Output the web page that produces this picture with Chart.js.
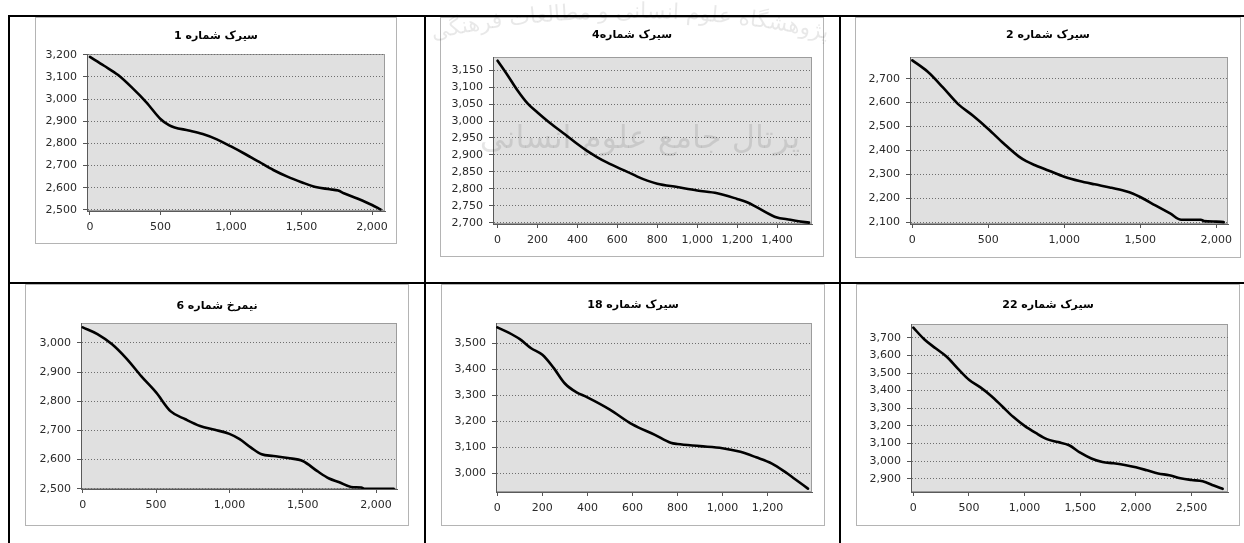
<!DOCTYPE html>
<html>
<head>
<meta charset="utf-8">
<script src="https://cdn.jsdelivr.net/npm/chart.js@4.4.1/dist/chart.umd.min.js"></script>
<style>
  html, body { margin: 0; padding: 0; background: #fff; width: 1244px; height: 543px; overflow: hidden; position: relative; }
  .rule { position: absolute; background: #000; }
  .frame { position: absolute; box-sizing: border-box; border: 1px solid #b4b4b4; background: #fff; }
  canvas { position: absolute; }
  .mark { position: absolute; left: 0; top: 0; pointer-events: none; z-index: 5; }
</style>
</head>
<body>
<!-- table rules -->
<div class="rule" style="left:8px;top:15px;width:1236px;height:2px"></div>
<div class="rule" style="left:8px;top:282px;width:1236px;height:2px"></div>
<div class="rule" style="left:8px;top:15px;width:2px;height:528px"></div>
<div class="rule" style="left:424px;top:15px;width:2px;height:528px"></div>
<div class="rule" style="left:839px;top:15px;width:2px;height:528px"></div>

<!-- faint portal stamp -->
<svg class="mark" width="1244" height="300" viewBox="0 0 1244 300">
  <defs>
    <path id="arc" d="M 330 68 A 925 925 0 0 1 930 68" />
  </defs>
  <text font-family="DejaVu Sans" font-size="22" fill="#000" fill-opacity="0.09" direction="rtl">
    <textPath href="#arc" startOffset="50%" text-anchor="middle">پژوهشگاه علوم انسانی و مطالعات فرهنگی</textPath>
  </text>
  <text x="640" y="148" font-family="DejaVu Sans" font-size="32" fill="#000" fill-opacity="0.1" text-anchor="middle" direction="rtl">پرتال جامع علوم انسانی</text>
</svg>

<script>
// Profile titles
const titles = ['سیرک شماره 1', 'سیرک شماره4', 'سیرک شماره 2', 'نیمرخ شماره 6', 'سیرک شماره 18', 'سیرک شماره 22'];

// Profile 1
const dist1 = [0, 100, 200, 300, 400, 500, 560, 600, 700, 800, 900, 1000, 1100, 1200, 1300, 1400, 1500, 1600, 1700, 1760, 1800, 1900, 2000, 2060];
const elev1 = [3190, 3150, 3108, 3050, 2985, 2910, 2882, 2872, 2858, 2842, 2818, 2786, 2752, 2716, 2680, 2650, 2625, 2603, 2593, 2587, 2575, 2550, 2522, 2502];
const xTicks1 = [0, 500, 1000, 1500, 2000];
const yTicks1 = [2500, 2600, 2700, 2800, 2900, 3000, 3100, 3200];

// Profile 4
const dist2 = [0, 50, 100, 150, 200, 250, 300, 350, 400, 450, 500, 550, 600, 650, 700, 750, 800, 900, 1000, 1100, 1200, 1250, 1300, 1400, 1450, 1500, 1560];
const elev2 = [3178, 3135, 3090, 3052, 3025, 3000, 2977, 2955, 2932, 2911, 2893, 2877, 2863, 2850, 2836, 2824, 2815, 2805, 2795, 2787, 2770, 2760, 2745, 2715, 2710, 2705, 2700];
const xTicks2 = [0, 200, 400, 600, 800, 1000, 1200, 1400];
const yTicks2 = [2700, 2750, 2800, 2850, 2900, 2950, 3000, 3050, 3100, 3150];

// Profile 2
const dist3 = [0, 100, 200, 300, 400, 500, 600, 700, 750, 800, 900, 1000, 1100, 1200, 1300, 1400, 1450, 1500, 1600, 1700, 1770, 1900, 1920, 2000, 2050];
const elev3 = [2777, 2730, 2665, 2595, 2545, 2490, 2430, 2375, 2355, 2340, 2315, 2290, 2272, 2258, 2245, 2230, 2220, 2205, 2170, 2135, 2110, 2110, 2104, 2102, 2100];
const xTicks3 = [0, 500, 1000, 1500, 2000];
const yTicks3 = [2100, 2200, 2300, 2400, 2500, 2600, 2700];

// Profile 6
const dist4 = [0, 100, 200, 300, 400, 500, 600, 700, 800, 900, 1000, 1070, 1150, 1220, 1300, 1400, 1500, 1600, 1680, 1750, 1830, 1900, 1920, 2120];
const elev4 = [3053, 3030, 2995, 2945, 2885, 2830, 2765, 2738, 2715, 2702, 2688, 2670, 2640, 2618, 2612, 2605, 2595, 2560, 2535, 2522, 2506, 2504, 2500, 2500];
const xTicks4 = [0, 500, 1000, 1500, 2000];
const yTicks4 = [2500, 2600, 2700, 2800, 2900, 3000];

// Profile 18
const dist5 = [0, 50, 100, 150, 200, 250, 300, 350, 400, 500, 600, 700, 770, 800, 900, 1000, 1080, 1150, 1220, 1280, 1320, 1380];
const elev5 = [3560, 3540, 3515, 3480, 3455, 3405, 3345, 3312, 3292, 3245, 3188, 3148, 3118, 3113, 3105, 3097, 3083, 3062, 3038, 3005, 2980, 2942];
const xTicks5 = [0, 200, 400, 600, 800, 1000, 1200];
const yTicks5 = [3000, 3100, 3200, 3300, 3400, 3500];

// Profile 22
const dist6 = [0, 100, 200, 300, 400, 500, 600, 700, 800, 900, 1000, 1100, 1200, 1300, 1400, 1500, 1600, 1700, 1800, 1900, 2000, 2100, 2200, 2300, 2400, 2500, 2600, 2700, 2780];
const elev6 = [3757, 3690, 3640, 3592, 3525, 3462, 3420, 3370, 3310, 3250, 3200, 3160, 3125, 3108, 3090, 3048, 3015, 2995, 2988, 2978, 2965, 2948, 2930, 2920, 2903, 2893, 2886, 2862, 2843];
const xTicks6 = [0, 500, 1000, 1500, 2000, 2500];
const yTicks6 = [2900, 3000, 3100, 3200, 3300, 3400, 3500, 3600, 3700];

// Panel geometry: frame box (left, top, right, bottom), plot box, title centre y, axis ranges
const panels = [
  { frame: [35, 17, 396, 243],  plot: [87, 54, 385, 211],   titleY: 36,  xr: [-21, 2092], yr: [2495, 3203], d: dist1, e: elev1, xt: xTicks1, yt: yTicks1 },
  { frame: [440, 17, 823, 256], plot: [493, 57, 812, 224],  titleY: 35,  xr: [-23, 1575], yr: [2696, 3189], d: dist2, e: elev2, xt: xTicks2, yt: yTicks2 },
  { frame: [855, 17, 1240, 257], plot: [910, 57, 1228, 224], titleY: 35, xr: [-15, 2078], yr: [2092, 2791], d: dist3, e: elev3, xt: xTicks3, yt: yTicks3 },
  { frame: [25, 284, 408, 525], plot: [81, 323, 397, 489],  titleY: 306, xr: [-12, 2143], yr: [2499, 3068], d: dist4, e: elev4, xt: xTicks4, yt: yTicks4 },
  { frame: [441, 284, 824, 525], plot: [496, 323, 812, 492], titleY: 305, xr: [-6, 1398], yr: [2929, 3577], d: dist5, e: elev5, xt: xTicks5, yt: yTicks5 },
  { frame: [856, 284, 1239, 525], plot: [911, 324, 1228, 492], titleY: 305, xr: [-21, 2828], yr: [2825, 3778], d: dist6, e: elev6, xt: xTicks6, yt: yTicks6 }
];

// Grey plot background with a light frame on top and right
const plotBackground = {
  id: 'plotBackground',
  beforeDraw(chart) {
    const { ctx, chartArea: a } = chart;
    ctx.save();
    ctx.fillStyle = '#e0e0e0';
    ctx.fillRect(a.left, a.top, a.right - a.left, a.bottom - a.top);
    ctx.strokeStyle = '#9c9c9c';
    ctx.lineWidth = 1;
    ctx.strokeRect(a.left + 0.5, a.top + 0.5, a.right - a.left - 1, a.bottom - a.top - 1);
    ctx.restore();
  }
};

// Right-to-left panel heading, centred across the canvas
const rtlTitle = {
  id: 'rtlTitle',
  afterDraw(chart, args, opts) {
    const { ctx, width } = chart;
    ctx.save();
    ctx.direction = 'rtl';
    ctx.textAlign = 'center';
    ctx.textBaseline = 'middle';
    ctx.fillStyle = '#000';
    ctx.font = 'bold 11px "DejaVu Sans"';
    ctx.fillText(opts.text, width / 2, opts.y);
    ctx.restore();
  }
};

const tickFont = { family: 'DejaVu Sans', size: 11 };

panels.forEach((p, i) => {
  const [fl, ft, fr, fb] = p.frame;
  const [pl, pt, pr, pb] = p.plot;
  const frame = document.createElement('div');
  frame.className = 'frame';
  frame.style.left = fl + 'px';
  frame.style.top = ft + 'px';
  frame.style.width = (fr - fl + 1) + 'px';
  frame.style.height = (fb - ft + 1) + 'px';
  document.body.appendChild(frame);

  const cl = fl + 1, ct = ft + 1, cw = fr - fl - 1, ch = fb - ft - 1;
  const cv = document.createElement('canvas');
  cv.width = cw; cv.height = ch;
  cv.style.left = cl + 'px'; cv.style.top = ct + 'px';
  cv.style.width = cw + 'px'; cv.style.height = ch + 'px';
  document.body.appendChild(cv);

  const yAxisW = pl - cl;
  const xAxisH = fb - pb;

  new Chart(cv, {
    type: 'line',
    data: {
      datasets: [{
        data: p.d.map((x, k) => ({ x: x, y: p.e[k] })),
        borderColor: '#000',
        borderWidth: 2.6,
        pointRadius: 0,
        cubicInterpolationMode: 'monotone',
        borderJoinStyle: 'round',
        borderCapStyle: 'round'
      }]
    },
    options: {
      responsive: false,
      animation: false,
      devicePixelRatio: 1,
      events: [],
      layout: { padding: { left: 0, top: pt - ct, right: fr - pr, bottom: 0 } },
      plugins: {
        legend: { display: false },
        tooltip: { enabled: false },
        title: { display: false },
        rtlTitle: { text: titles[i], y: p.titleY - ct }
      },
      scales: {
        x: {
          type: 'linear',
          min: p.xr[0], max: p.xr[1],
          afterBuildTicks: s => { s.ticks = p.xt.map(v => ({ value: v })); },
          afterFit: s => { s.height = xAxisH; },
          ticks: { font: tickFont, color: '#2a2a2a', padding: 6, maxRotation: 0, autoSkip: false },
          grid: { drawOnChartArea: false, drawTicks: true, tickLength: 4, tickColor: '#555' },
          border: { display: true, color: '#5a5a5a', width: 1 }
        },
        y: {
          type: 'linear',
          min: p.yr[0], max: p.yr[1],
          afterBuildTicks: s => { s.ticks = p.yt.map(v => ({ value: v })); },
          afterFit: s => { s.width = yAxisW; },
          ticks: { font: tickFont, color: '#2a2a2a', padding: 6, autoSkip: false },
          grid: { color: '#6e6e6e', lineWidth: 1, drawTicks: true, tickLength: 4, tickColor: '#555', tickBorderDash: [] },
          border: { display: true, color: '#5a5a5a', width: 1, dash: [1, 2] }
        }
      }
    },
    plugins: [plotBackground, rtlTitle]
  });
});
</script>
</body>
</html>
